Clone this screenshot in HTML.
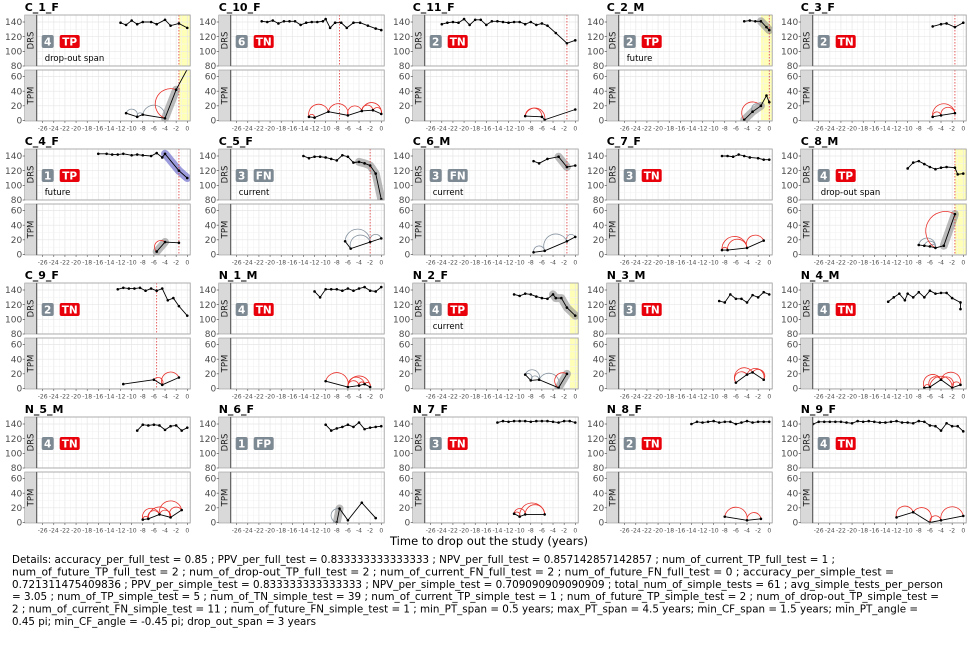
<!DOCTYPE html>
<html><head><meta charset="utf-8"><style>
html,body{margin:0;padding:0;background:#fff;}
svg{display:block;font-family:"DejaVu Sans","Liberation Sans",sans-serif;}
</style></head><body>
<svg id="chart" width="974" height="650" viewBox="0 0 974 650" xmlns="http://www.w3.org/2000/svg">
<g id="panels"></g>
<text x="489" y="545" font-size="11.5" text-anchor="middle" fill="#000">Time to drop out the study (years)</text>
<g font-size="11" fill="#000">
<text x="12" y="563" textLength="823" lengthAdjust="spacingAndGlyphs">Details: accuracy_per_full_test = 0.85 ; PPV_per_full_test = 0.833333333333333 ; NPV_per_full_test = 0.857142857142857 ; num_of_current_TP_full_test = 1 ;</text>
<text x="12" y="575.4" textLength="882" lengthAdjust="spacingAndGlyphs">num_of_future_TP_full_test = 2 ; num_of_drop-out_TP_full_test = 2 ; num_of_current_FN_full_test = 2 ; num_of_future_FN_full_test = 0 ; accuracy_per_simple_test =</text>
<text x="12" y="587.8" textLength="931" lengthAdjust="spacingAndGlyphs">0.721311475409836 ; PPV_per_simple_test = 0.833333333333333 ; NPV_per_simple_test = 0.709090909090909 ; total_num_of_simple_tests = 61 ; avg_simple_tests_per_person</text>
<text x="12" y="600.2" textLength="927" lengthAdjust="spacingAndGlyphs">= 3.05 ; num_of_TP_simple_test = 5 ; num_of_TN_simple_test = 39 ; num_of_current_TP_simple_test = 1 ; num_of_future_TP_simple_test = 2 ; num_of_drop-out_TP_simple_test =</text>
<text x="12" y="612.6" textLength="906" lengthAdjust="spacingAndGlyphs">2 ; num_of_current_FN_simple_test = 11 ; num_of_future_FN_simple_test = 1 ; min_PT_span = 0.5 years; max_PT_span = 4.5 years; min_CF_span = 1.5 years; min_PT_angle =</text>
<text x="12" y="625" textLength="304" lengthAdjust="spacingAndGlyphs">0.45 pi; min_CF_angle = -0.45 pi; drop_out_span = 3 years</text>
</g>
</svg>
<script>
const panelNames=["C_1_F","C_10_F","C_11_F","C_2_M","C_3_F","C_4_F","C_5_F","C_6_M","C_7_F","C_8_M","C_9_F","N_1_M","N_2_F","N_3_M","N_4_M","N_5_M","N_6_F","N_7_F","N_8_F","N_9_F"];
const badgeNums=[4,6,2,2,2,1,3,3,3,4,2,4,4,3,4,4,1,3,2,4];
const badgeLabels=["TP","TN","TN","TP","TN","TP","FN","FN","TN","TP","TN","TN","TP","TN","TN","TN","FP","TN","TN","TN"];
const subtexts=["drop-out span","","","future","","future","current","current","","drop-out span","","","current","","","","","","",""];
const vlines=[-1.5,-7.5,-1.5,0,-1.5,-1.5,-2,-1.5,null,-1.5,-5.5,null,null,null,null,null,null,null,null,null];
const yellowBands=[[-1.5,0.6],null,null,[-1.5,0.6],null,null,null,null,null,[-1.5,0.6],null,null,[-1,0.6],null,null,null,null,null,null,null];
const drsX=[
[-12,-11,-10,-9,-8,-6.5,-5.5,-4,-3,-1.5,0],
[-21.5,-20.5,-19.5,-18.5,-17.5,-16.5,-15.5,-14.5,-13.5,-12.5,-11.5,-10.5,-10,-9.2,-8.3,-7.2,-6.2,-5,-3.8,-2.4,-1,0],
[-24,-23,-22,-21,-20,-19,-18,-17,-16,-15,-14,-13,-12,-11,-10,-9,-8,-7,-6,-5,-3.5,-1.5,0],
[-4.5,-3.5,-2.5,-1.5,-0.5,0],
[-5.5,-4,-3,-1.5,0],
[-16,-14.5,-13.5,-12.5,-11.5,-10,-9,-8,-6.5,-5.5,-4.5,-4,-1.5,0],
[-14,-13,-12,-11,-10,-9,-8,-7,-6,-5,-4,-3,-2,-1,0],
[-7.5,-6.5,-5,-3,-1.5,0],
[-8.5,-7.5,-6.5,-5.5,-4.5,-3.5,-2,-1,0],
[-10,-9,-8,-7,-6,-5,-4,-3,-1.5,-1,0],
[-12.5,-11.5,-10.5,-9.5,-8.5,-7.5,-6.5,-5.5,-4.5,-3.5,-2.5,-1.5,0],
[-12,-11,-10,-9,-8,-7,-6,-5,-4,-3,-2,-1,0],
[-11,-10,-9,-8,-7,-6,-5,-4,-3.5,-2.5,-1.5,0],
[-9,-8,-7,-6,-5,-4,-3,-2,-1,0],
[-13.5,-12.5,-11.5,-10.5,-10,-9,-8,-7,-6,-5,-4,-3,-2,-0.5,-0.5],
[-9,-8,-7,-6,-5,-4,-3,-2,-1,0],
[-10,-9,-8,-7,-6,-5,-4,-3,-2,-1,0],
[-14,-13,-12,-11,-10,-9,-8,-7,-6,-5,-4,-3,-2,-1,0],
[-14,-13,-12,-11,-10,-9,-8,-7,-6,-5,-4,-3,-2,-1,0],
[-27,-26,-25,-24,-23,-22,-21,-20,-19,-18,-17,-16,-15,-14,-13,-12,-11,-10,-9,-8,-7,-6,-5,-4,-3,-2,-1,0]];
const drsY=[
[139,136,142,137,140,140,137,143,135,138,132],
[141,140,142,138,141,141,141,136,139,140,140,141,144,132,139,139,132,139,139,135,131,129],
[137,139,140,139,144,136,143,143,136,141,141,140,139,140,140,137,140,136,138,135,125,111,115],
[141,142,141,141,133,129],
[134,137,138,133,139],
[143,143,142,142,143,141,142,141,140,144,138,143,120,110],
[140,137,139,139,138,136,134,141,139,131,132,130,127,116,81],
[133,130,136,139,125,127],
[140,140,139,142,140,138,137,135,135],
[123,131,133,129,125,122,124,125,124,115,116],
[141,143,142,142,143,139,142,139,142,126,129,118,105],
[138,130,141,141,141,139,142,139,142,144,139,138,144],
[134,132,135,134,131,129,128,134,129,129,116,105],
[125,123,134,128,128,123,133,130,137,134],
[124,130,135,126,135,130,137,130,139,135,136,136,129,123,114],
[131,139,138,139,138,132,137,138,131,135],
[139,131,134,136,139,136,142,133,135,136,137],
[142,144,143,144,144,144,143,144,144,144,143,142,144,144,142],
[140,143,142,143,144,142,143,143,140,142,144,142,143,143,143],
[140,143,143,143,143,143,142,141,144,143,144,143,142,142,143,144,142,142,141,144,143,138,137,131,141,137,137,130]];
const tpmX=[
[-11,-9,-8,-4,-2,0],[-13,-12,-9.5,-6,-3.5,-1.5,0],[-9,-6,-5.5,0],[-4.5,-3,-1.5,-0.5,0],[-5.5,-4,-1.5],
[-5.5,-4,-1.5],[-6.5,-5.5,-2,0],[-7.5,-5.5,-1.5,0],[-8.5,-7.5,-4,-1],[-8,-7,-6,-5,-3.5,-1.5],
[-11.5,-6,-4.5,-1.5],[-10,-6,-4,-3,-2],[-9,-8,-6.5,-3,-1.5],[-6,-4,-3,-1],[-7,-6,-4,-2,-0.5],
[-8,-7,-5,-3,-1],[-8,-7.5,-6,-3.5,-1],[-11,-10,-9,-5.5],[-8,-4,-1.5],[-12,-9,-6,-4,0]];
const tpmY=[
[10,5,8,3,42,70],[5,4,12,7,13,14,9],[6,5,1,15],[1,12,20,34,25],[5,7,10],
[4,17,16],[18,8,17,22],[3,5,18,24],[6,6,9,19],[13,12,11,9,12,55],
[6,12,5,15],[10,2,4,6,2],[19,11,12,1,20],[8,19,22,12],[1,2,12,1,5],
[4,5,11,7,17],[0,19,3,27,6],[12,8,11,11],[8,3,5],[7,14,0,3,9]];
// arcs: [fromIndex,toIndex,colour r=red g=grey]
const tpmArcs=[
[[0,1,"g"],[1,2,"g"],[2,3,"g"],[3,4,"r"]],
[[0,1,"r"],[0,2,"r"],[2,3,"r"],[3,4,"r"],[4,5,"r"],[4,6,"r"],[5,6,"r"]],
[[0,1,"r"],[0,2,"r"]],
[[0,2,"r"],[1,2,"g"]],
[[0,1,"r"],[0,2,"r"],[1,2,"r"]],
[[0,1,"r"]],
[[0,2,"g"],[1,2,"g"],[2,3,"g"]],
[[0,1,"g"],[1,2,"g"],[2,3,"g"]],
[[0,1,"r"],[0,2,"r"],[1,2,"r"],[2,3,"r"]],
[[0,3,"g"],[1,3,"g"],[2,3,"g"],[3,5,"r"]],
[[1,2,"r"],[2,3,"r"]],
[[0,1,"r"],[1,2,"r"],[1,3,"r"],[1,4,"r"],[2,3,"r"],[3,4,"r"]],
[[0,1,"g"],[0,2,"g"],[1,2,"g"],[2,3,"g"],[3,4,"r"]],
[[0,1,"r"],[0,2,"r"],[1,3,"r"],[2,3,"r"]],
[[0,1,"r"],[0,2,"r"],[1,2,"r"],[1,3,"r"],[2,3,"r"],[2,4,"r"],[3,4,"r"]],
[[0,1,"r"],[0,2,"r"],[1,2,"r"],[1,3,"r"],[2,3,"r"],[2,4,"r"],[3,4,"r"]],
[[0,1,"g"]],
[[0,1,"r"],[0,2,"r"],[1,3,"r"],[2,3,"r"]],
[[0,1,"r"],[1,2,"r"]],
[[0,1,"r"],[1,2,"r"],[2,3,"r"],[3,4,"r"]]];
// highlighted segments [series,startIndex,endIndex,colour]
const highlights=[
[["tpm",3,4,"g"]],[],[],[["drs",3,5,"g"],["tpm",0,2,"g"]],[],
[["drs",11,13,"b"],["tpm",0,1,"g"]],[["drs",10,14,"g"]],[["drs",3,4,"g"]],[],[["tpm",4,5,"g"]],
[],[],[["drs",7,11,"g"],["tpm",3,4,"g"]],[],[],
[],[["tpm",0,1,"g"]],[],[],[]];
const xTicks=[-26,-24,-22,-20,-18,-16,-14,-12,-10,-8,-6,-4,-2,0];
const drsTicks=[80,100,120,140];
const tpmTicks=[0,20,40,60];

const NS="http://www.w3.org/2000/svg";
const root=document.getElementById("panels");
function mk(tag,attrs,parent){const e=document.createElementNS(NS,tag);for(const k in attrs)e.setAttribute(k,attrs[k]);(parent||root).appendChild(e);return e;}
const PW=153.5,PH=51;
panelNames.forEach((name,i)=>{
  const c=i%5,r=Math.floor(i/5);
  const PL=36.7+194*c, T=15+134*r;
  const xs=t=>PL+6+(t+26)*5.56;
  const yD=v=>T+PH-(v-80)*0.7333;
  const yT=v=>T+55+50.5-v*0.7333;
  const g=mk("g",{});
  
  
  const t=mk("text",{x:PL-12,y:T-4,"font-size":"11","font-weight":"bold",fill:"#000"},g);
  t.textContent=name;
  
  
  [["DRS",T,drsTicks,yD],["TPM",T+55,tpmTicks,yT]].forEach(([lab,top,ticks,ys],k)=>{
    const clipId="clip"+i+"_"+k;
    const cp=mk("clipPath",{id:clipId},g);mk("rect",{x:PL,y:top,width:PW,height:PH},cp);
    mk("rect",{x:PL-12,y:top,width:12,height:PH,fill:"#d9d9d9",stroke:"#9a9a9a","stroke-width":0.6},g);
    const st=mk("text",{x:0,y:0,"font-size":"8.5",fill:"#1a1a1a","text-anchor":"middle",transform:`translate(${PL-3.2},${top+PH/2}) rotate(-90)`},g);
    st.textContent=lab;
    
    
    const pan=mk("rect",{x:PL,y:top,width:PW,height:PH,fill:"#fff"},g);
    
    
    const cg=mk("g",{"clip-path":`url(#${clipId})`},g);
    const yb=yellowBands[i];
    if(yb) mk("rect",{x:xs(yb[0]),y:top,width:xs(yb[1])-xs(yb[0]),height:PH,fill:"#ffffb8"},cg);
    for(let tt=-27;tt<=1;tt++){mk("line",{x1:xs(tt),x2:xs(tt),y1:top,y2:top+PH,stroke:tt%2===0?"#e6e6e6":"#f2f2f2","stroke-width":tt%2===0?0.7:0.5},cg);}
    for(let v=ticks[0]-10;v<=ticks[3]+20;v+=10){const yy=ys(v);mk("line",{x1:PL,x2:PL+PW,y1:yy,y2:yy,stroke:v%20===0?"#e6e6e6":"#f2f2f2","stroke-width":v%20===0?0.7:0.5},cg);}
    ticks.forEach(v=>{
      const yy=ys(v);
      const tl=mk("text",{x:PL-14.5,y:yy+3.2,"font-size":"9",fill:"#4d4d4d","text-anchor":"end"},g);tl.textContent=v;
      
      
      mk("line",{x1:PL-14,x2:PL-12,y1:yy,y2:yy,stroke:"#333","stroke-width":0.6},g);
    });
    const X=k===0?drsX[i]:tpmX[i], Y=k===0?drsY[i]:tpmY[i];
    highlights[i].forEach(h=>{
      if((h[0]==="drs")!==(k===0))return;
      const pts=[];for(let j=h[1];j<=h[2];j++)pts.push(xs(X[j])+","+ys(Y[j]));
      const hl=mk("polyline",{points:pts.join(" "),fill:"none",stroke:h[3]==="b"?"#5c5cc8":"#8c8c8c","stroke-opacity":0.6,"stroke-width":8,"stroke-linecap":"round","stroke-linejoin":"round"},cg);
      
      
    });
    if(k===1){
      tpmArcs[i].forEach(a=>{
        const x1=xs(X[a[0]]),y1=ys(Y[a[0]]),x2=xs(X[a[1]]),y2=ys(Y[a[1]]);
        const rr=Math.hypot(x2-x1,y2-y1)/2;
        const p=mk("path",{d:`M${x1},${y1} A${rr},${rr} 0 0 1 ${x2},${y2}`,fill:"none",stroke:a[2]==="r"?"#e8302a":"#8794a0","stroke-width":0.8},cg);
        
        
      });
    }
    const vl=vlines[i];
    if(vl!==null) mk("line",{x1:xs(vl),x2:xs(vl),y1:top,y2:top+PH,stroke:"#e03a3a","stroke-width":0.8,"stroke-dasharray":"1.5,1.5"},cg);
    const line=mk("polyline",{points:X.map((x,j)=>xs(x)+","+ys(Y[j])).join(" "),fill:"none",stroke:"#000","stroke-width":0.9},cg);
    
    
    X.forEach((x,j)=>{
      const pt=mk("circle",{cx:xs(x),cy:ys(Y[j]),r:1.3,fill:"#000"},cg);
      
      
    });
    mk("rect",{x:PL,y:top,width:PW,height:PH,fill:"none",stroke:"#9a9a9a","stroke-width":0.8},g);
    mk("line",{x1:PL,x2:PL,y1:top,y2:top+PH,stroke:"#555","stroke-width":1},g);
  });
  xTicks.forEach(v=>{
    const xt=mk("text",{x:xs(v),y:T+115.5,"font-size":"6.1",fill:"#4d4d4d","text-anchor":"middle"},g);xt.textContent=v;
    
    
    mk("line",{x1:xs(v),x2:xs(v),y1:T+106,y2:T+108,stroke:"#333","stroke-width":0.5},g);
  });
  const b1=mk("rect",{x:PL+5,y:T+20,width:12,height:13,rx:2,fill:"#7d8993"},g);
  
  
  const bt1=mk("text",{x:PL+11,y:T+30.5,"font-size":"10.5","font-weight":"bold",fill:"#fff","text-anchor":"middle"},g);bt1.textContent=badgeNums[i];
  const lab=badgeLabels[i];
  const b2=mk("rect",{x:PL+23,y:T+20,width:20,height:13,rx:2,fill:(lab==="TP"||lab==="TN")?"#e8000b":"#7d8993"},g);
  
  
  const bt2=mk("text",{x:PL+33,y:T+30.5,"font-size":"10.5","font-weight":"bold",fill:"#fff","text-anchor":"middle"},g);bt2.textContent=lab;
  if(subtexts[i]){
    const s=mk("text",{x:PL+8,y:T+46,"font-size":"8.5",fill:"#000"},g);s.textContent=subtexts[i];
    
    
  }
});
</script>
</body></html>
